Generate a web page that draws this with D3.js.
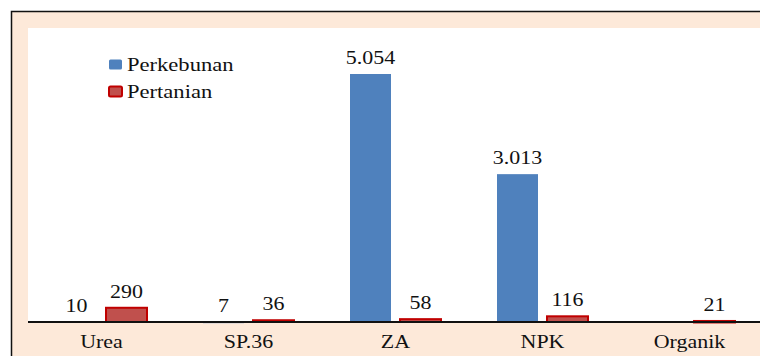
<!DOCTYPE html>
<html>
<head>
<meta charset="utf-8">
<script src="https://cdn.jsdelivr.net/npm/d3@7/dist/d3.min.js"></script>
<style>
  html, body { margin: 0; padding: 0; background: #ffffff; }
  svg { display: block; }
</style>
</head>
<body>
<svg id="chart" width="760" height="356"></svg>
<script>
// Fertilizer use by sector
const categories = ["Urea", "SP.36", "ZA", "NPK", "Organik"];
const seriesNames = ["Perkebunan", "Pertanian"];
const perkebunan = [10, 7, 5054, 3013, null];
const pertanian = [290, 36, 58, 116, 21];

const colors = {
  Perkebunan: { fill: "#4f81bd", stroke: "#4a7ebb" },
  Pertanian: { fill: "#c0504d", stroke: "#c00000" }
};

const FONT = '"Liberation Serif"';
const STRETCH = 1.22; // wide lettering used throughout the chart
const W = 760;
const svg = d3.select("#chart");

// outer frame and plot area
svg.append("rect")
  .attr("x", 11.5).attr("y", 11.5)
  .attr("width", 820).attr("height", 420)
  .attr("fill", "#fde9d9")
  .attr("stroke", "#111").attr("stroke-width", 1.5);

const plot = { left: 28, top: 28, right: 763, bottom: 322 };

svg.append("rect")
  .attr("x", plot.left).attr("y", plot.top)
  .attr("width", 780).attr("height", plot.bottom - plot.top)
  .attr("fill", "#ffffff");

const x0 = d3.scaleBand().domain(categories).range([plot.left, plot.right]).padding(0);
const x1 = d3.scaleBand().domain(seriesNames).range([0, x0.bandwidth()]).paddingInner(0.18).paddingOuter(0.56);
const y = d3.scaleLinear().domain([0, 5054]).range([plot.bottom, 74]);

const locale = d3.formatLocale({ decimal: ",", thousands: ".", grouping: [3], currency: ["Rp", ""] });
const fmt = locale.format(",d");

const rows = categories.map((c, i) => ({
  cat: c,
  vals: [
    { s: "Perkebunan", v: perkebunan[i] },
    { s: "Pertanian", v: pertanian[i] }
  ].filter(d => d.v !== null)
}));

const g = svg.selectAll("g.grp").data(rows).enter().append("g")
  .attr("class", "grp")
  .attr("transform", d => `translate(${x0(d.cat)},0)`);

g.selectAll("rect").data(d => d.vals).enter().append("rect")
  .attr("x", d => x1(d.s))
  .attr("width", x1.bandwidth())
  .attr("y", d => y(d.v))
  .attr("height", d => Math.max(plot.bottom - y(d.v), 1.5))
  .attr("fill", d => colors[d.s].fill)
  .attr("stroke", d => d.s === "Pertanian" ? colors[d.s].stroke : "none")
  .attr("stroke-width", 2);

g.selectAll("text.val").data(d => d.vals).enter().append("text")
  .attr("class", "val")
  .attr("transform", d => `translate(${x1(d.s) + x1.bandwidth() / 2},${y(d.v) - 10}) scale(${STRETCH},1)`)
  .attr("text-anchor", "middle")
  .attr("fill", "#111")
  .style("font-family", FONT)
  .attr("font-size", 18)
  .text(d => fmt(d.v));

// category axis
const xAxis = svg.append("g")
  .attr("transform", `translate(0,${plot.bottom})`)
  .call(d3.axisBottom(x0).tickSize(0).tickPadding(13));
xAxis.attr("font-family", null).attr("font-size", null);
xAxis.select(".domain").attr("stroke", "#111").attr("stroke-width", 2)
  .attr("d", `M${plot.left},0H${W + 10}`);
xAxis.selectAll("text")
  .attr("transform", `scale(${STRETCH},1)`)
  .attr("fill", "#111")
  .attr("font-size", 18)
  .style("font-family", FONT);

// legend
const legend = svg.append("g").attr("transform", "translate(108,59)");
seriesNames.forEach((s, i) => {
  const row = legend.append("g").attr("transform", `translate(0,${i * 27})`);
  row.append("rect")
    .attr("x", 1).attr("y", 0.5).attr("width", 13).attr("height", 10)
    .attr("rx", 1.5)
    .attr("fill", colors[s].fill)
    .attr("stroke", s === "Pertanian" ? colors[s].stroke : "none")
    .attr("stroke-width", 2);
  row.append("text")
    .attr("transform", `translate(19,12) scale(${STRETCH},1)`)
    .attr("fill", "#111")
    .attr("font-size", 18.5)
    .style("font-family", FONT)
    .text(s);
});
</script>
</body>
</html>
